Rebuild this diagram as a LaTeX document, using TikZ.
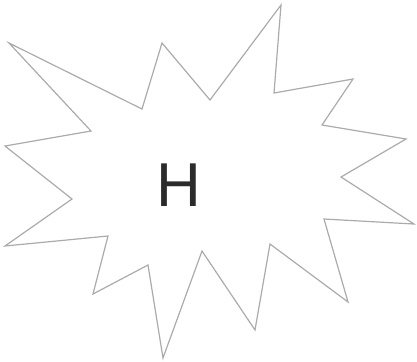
\documentclass[tikz,border=0pt]{standalone}
\usepackage{fontspec}
\setmainfont{Liberation Sans}
\definecolor{burstline}{HTML}{ABABAB}
\definecolor{inkcolor}{HTML}{2B2B2B}

\begin{document}
\begin{tikzpicture}[x=0.5pt, y=-0.5pt]

\tikzset{
  burst/.style={draw=burstline, line width=0.6pt, line join=miter},
  bigletter/.style={inner sep=0pt, text=inkcolor, font=\fontsize{31}{31}\selectfont},
}

\useasboundingbox (0,0) rectangle (417,361);

% ---- starburst outline ----
\draw[burst]
  (9,43) -- (142,109) -- (162,43) -- (210,100) -- (281,5) -- (274,93)
  -- (353,79) -- (322,125) -- (406,139) -- (341,177) -- (414,224)
  -- (324,219) -- (348,302) -- (270,244) -- (255,330) -- (202,251)
  -- (163,358) -- (148,265) -- (93,294) -- (108,236) -- (5,246)
  -- (72,199) -- (5,146) -- (91,131) -- cycle;

% ---- letter ----
\node[bigletter] (letter) at (179,185) {H};

\end{tikzpicture}
\end{document}
